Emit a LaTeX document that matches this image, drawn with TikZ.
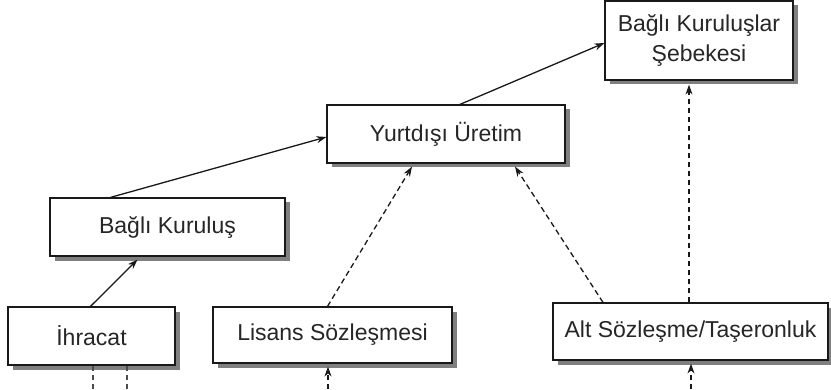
\documentclass[tikz,border=0pt]{standalone}
\usepackage{fontspec}
\setmainfont{Liberation Sans}
\usetikzlibrary{arrows.meta,shadows}
\begin{document}
\begin{tikzpicture}[x=1pt,y=1pt,
  box/.style={draw=black!90, line width=1.2pt, fill=white, inner sep=0pt,
    font=\fontsize{23}{30}\selectfont, text=black!85, align=center,
    drop shadow={shadow xshift=4.5pt, shadow yshift=-4.5pt, fill=black!50, opacity=1}},
  link/.style={draw=black!90, line width=1.3pt, -{Stealth[length=10pt,width=7pt]}},
  dlink/.style={link, dash pattern=on 5.5pt off 3.5pt},
  dline/.style={draw=black!70, line width=1.1pt, dash pattern=on 5.5pt off 3.5pt}]
\useasboundingbox (0,0) rectangle (831,389);
\fill[white] (0,0) rectangle (831,389);

% boxes
\node[box, minimum width=167pt, minimum height=58pt] (ihr) at (91.5,53) {İhracat};
\node[box, minimum width=239pt, minimum height=56pt] (lis) at (332.5,54) {Lisans Sözleşmesi};
\node[box, minimum width=275pt, minimum height=57pt] (alt) at (690.5,57.5) {Alt Sözleşme/Taşeronluk};
\node[box, minimum width=235pt, minimum height=58pt] (bk) at (167.5,162) {Bağlı Kuruluş};
\node[box, minimum width=238pt, minimum height=58pt] (yu) at (446,255) {Yurtdışı Üretim};
\node[box, minimum width=188pt, minimum height=79pt] (seb) at (699,348.5) {Bağlı Kuruluşlar\\Şebekesi};

% solid growth path
\draw[link] ([xshift=-1pt]ihr.north) -- ([xshift=-30pt,yshift=-3pt]bk.south);
\draw[link] ([xshift=-57pt]bk.north) -- ([yshift=-3pt]yu.west);
\draw[link] ([xshift=14pt]yu.north) -- ([yshift=-2.5pt]seb.west);

% dashed contributions
\draw[dlink] ([xshift=-5pt]lis.north) -- ([xshift=-34pt,yshift=-3pt]yu.south);
\draw[dlink] ([xshift=-87.5pt]alt.north) -- ([xshift=69pt,yshift=-3pt]yu.south);
\draw[dlink] ([xshift=-1.5pt]alt.north) -- ([xshift=-10pt,yshift=-4pt]seb.south);

% lines entering from below
\coordinate (ihrA) at (93,0);
\coordinate (ihrB) at (127,0);
\coordinate (lisIn) at (328,0);
\coordinate (altIn) at (691,0);
\draw[dline] (ihrA) -- (ihrA |- ihr.south);
\draw[dline] (ihrB) -- (ihrB |- ihr.south);
\draw[dlink] (lisIn) -- ([yshift=-3pt]lisIn |- lis.south);
\draw[dlink] (altIn) -- ([yshift=-3pt]altIn |- alt.south);
\end{tikzpicture}
\end{document}
